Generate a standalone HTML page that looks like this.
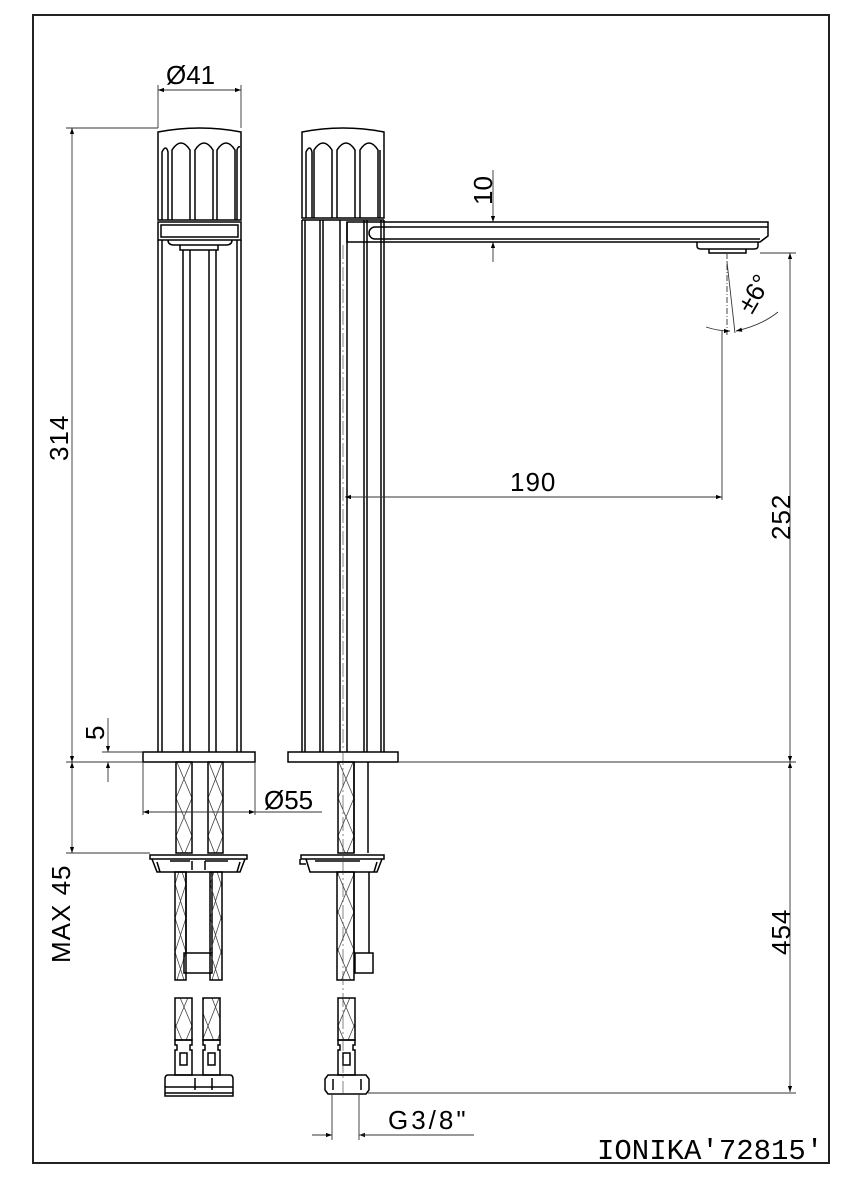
<!DOCTYPE html>
<html><head><meta charset="utf-8"><style>
html,body{margin:0;padding:0;background:#fff;}
svg{display:block;}
text{font-family:"Liberation Sans",sans-serif;fill:#000;}
</style></head><body>
<svg width="850" height="1200" viewBox="0 0 850 1200" xmlns="http://www.w3.org/2000/svg">
<defs>
<marker id="a" viewBox="0 0 10 10" refX="10" refY="5" markerWidth="10" markerHeight="6" orient="auto-start-reverse" markerUnits="userSpaceOnUse"><path d="M0,1.5 L10,5 L0,8.5z" fill="#000"/></marker>
<pattern id="h1" x="175" y="0" width="11" height="34" patternUnits="userSpaceOnUse"><path d="M0,0 L11,34 M11,0 L0,34" stroke="#444" stroke-width="0.8" fill="none"/></pattern>
<pattern id="h2" x="176" y="0" width="16" height="38" patternUnits="userSpaceOnUse"><path d="M0,0 L16,38 M16,0 L0,38" stroke="#444" stroke-width="0.8" fill="none"/></pattern>
<pattern id="h3" x="208" y="0" width="15" height="38" patternUnits="userSpaceOnUse"><path d="M0,0 L15,38 M15,0 L0,38" stroke="#444" stroke-width="0.8" fill="none"/></pattern>
<pattern id="h4" x="338" y="0" width="16" height="38" patternUnits="userSpaceOnUse"><path d="M0,0 L16,38 M16,0 L0,38" stroke="#444" stroke-width="0.8" fill="none"/></pattern>
<pattern id="h5" x="210" y="0" width="11" height="34" patternUnits="userSpaceOnUse"><path d="M0,0 L11,34 M11,0 L0,34" stroke="#444" stroke-width="0.8" fill="none"/></pattern>
</defs>
<rect x="33" y="15" width="796" height="1148" fill="none" stroke="#222" stroke-width="2"/>

<g fill="none" stroke="#000" stroke-width="1.5">
<!-- LEFT TAP -->
<path d="M158,132 Q200,124 241,132 L241,220 L158,220 Z"/>
<path d="M162,220 V152 q4,-8 6,0 V220 M172,220 V150 q9,-14 18,0 V220 M195,220 V150 q9,-14 18,0 V220 M217,220 V150 q9,-14 18,0 V220 M237,220 V150 q1,-4 3,-3"/>
<rect x="158" y="222" width="83" height="18"/>
<rect x="161" y="225" width="77" height="12"/>
<path d="M168,240 q0,5 6,5 H226 q6,0 6,-5 M180,245 V250 H218 V245"/>
<path d="M158,240 V752 M241,240 V752 M162,240 V752 M237,240 V752 M183,250 V752 M190,250 V752 M209,250 V752 M216,250 V752"/>
<rect x="143" y="752" width="112" height="10"/>
<rect x="176" y="762" width="16" height="91" fill="url(#h2)"/>
<rect x="208" y="762" width="15" height="91" fill="url(#h3)"/>
<path d="M150,855 H247 V859 H150 Z M152,859 L157,872 H240 L245,859"/>
<path d="M157,862 l3,10 M240,862 l-3,10 M170,861 H190 M205,861 H228 M192,861 V870 M205,861 V870"/>
<rect x="175" y="872" width="11" height="108" fill="url(#h1)"/>
<path d="M186,872 V953 M212,872 V953"/>
<rect x="184" y="953" width="28" height="20"/>
<rect x="210" y="872" width="12" height="108" fill="url(#h5)"/>
<rect x="175" y="998" width="17" height="42" fill="url(#h2)"/>
<rect x="203" y="998" width="17" height="42" fill="url(#h3)"/>
<path d="M175,1040 h17 v5 h-2 v5 h2 v25 h-17 v-25 h2 v-5 h-2z M203,1040 h17 v5 h-2 v5 h2 v25 h-17 v-25 h2 v-5 h-2z"/>
<rect x="180" y="1053" width="7" height="12"/><rect x="208" y="1053" width="7" height="12"/>
<path d="M168,1075 H230 q3,0 3,4 V1093 H165 V1079 q0,-4 3,-4z M165,1087 H233 M195,1078 V1090 M212,1078 V1090 M165,1093 v3 h68 v-3"/>

<!-- RIGHT TAP -->
<path d="M302,132 Q343,124 384,132 L384,218 L302,218 Z"/>
<path d="M306,218 V152 q4,-8 6,0 V218 M314,218 V150 q9,-14 18,0 V218 M337,218 V150 q9,-14 18,0 V218 M360,218 V150 q9,-14 18,0 V218 M380,218 V150"/>
<path d="M302,220 V752 M384,220 V752 M381,220 V752 M302,220 H384 M305,220 V752 M320,220 V752 M323,220 V752 M340,220 V752 M347,222 V752 M364,220 V752 M367,220 V752"/>
<path d="M347,222 H768 V236 L760,242 H347 Z"/>
<path d="M375,227 H768 M375,239 H760 M375,227 a6,6 0 0 0 0,12"/>
<path d="M697,242 v4 q0,3 4,3 H754 q4,0 4,-3 v-4 M709,249 v4 H746 v-4"/>
<rect x="288" y="752" width="110" height="10"/>
<rect x="338" y="762" width="16" height="91" fill="url(#h4)"/>
<path d="M354,762 V853 M368,762 V853"/>
<path d="M301,855 H384 V859 H301 Z M300,859 v5 h6 M306,859 L310,872 H377 L382,859 M377,862 l-3,10 M315,861 H360"/>
<rect x="337" y="872" width="17" height="108" fill="url(#h4)"/>
<path d="M354,872 V953 M369,872 V953"/>
<rect x="355" y="953" width="18" height="20"/>
<rect x="338" y="998" width="17" height="42" fill="url(#h4)"/>
<path d="M338,1040 h17 v5 h-2 v5 h2 v25 h-17 v-25 h2 v-5 h-2z"/>
<rect x="343" y="1053" width="7" height="12"/>
<path d="M328,1075 H366 l3,4 V1090 l-3,4 H328 l-3,-4 V1079z M333,1079 V1090 M361,1079 V1090"/>
</g>

<g fill="none" stroke="#333" stroke-width="0.9">
<path d="M158,85 V128 M241,85 V128"/>
<path d="M158,90 H241" marker-start="url(#a)" marker-end="url(#a)"/>
<path d="M66,128 H158"/>
<path d="M72,128 V762" marker-start="url(#a)" marker-end="url(#a)"/>
<path d="M66,762 H143 M102,752 H143"/>
<path d="M108,718 V752" marker-end="url(#a)"/>
<path d="M108,782 V762" marker-end="url(#a)"/>
<path d="M72,762 V853" marker-start="url(#a)" marker-end="url(#a)"/>
<path d="M66,853 H150"/>
<path d="M143,762 V815 M255,762 V815"/>
<path d="M143,812 H255" marker-start="url(#a)" marker-end="url(#a)"/>
<path d="M255,812 H322"/>
<path d="M493,170 V222" marker-end="url(#a)"/>
<path d="M493,262 V242" marker-end="url(#a)"/>
<path d="M398,762 H796 M760,253 H796"/>
<path d="M790,253 V762" marker-start="url(#a)" marker-end="url(#a)"/>
<path d="M790,762 V1092" marker-start="url(#a)" marker-end="url(#a)"/>
<path d="M368,1093 H796"/>
<path d="M345,497 H722" marker-start="url(#a)" marker-end="url(#a)"/>
<path d="M722,330 V500"/>
<path d="M727,253 V335" stroke-dasharray="6,2,1,2"/>
<path d="M727,262 L735,333"/>
<path d="M706,327 Q718,331 730,331" marker-end="url(#a)"/>
<path d="M778,312 Q762,325 736,331" marker-end="url(#a)"/>
<path d="M343,245 V1093" stroke-dasharray="14,3,2,3" stroke-width="0.6"/>
<path d="M332,1093 V1140 M359,1093 V1140"/>
<path d="M312,1135 H332" marker-end="url(#a)"/>
<path d="M379,1135 H359" marker-end="url(#a)"/>
<path d="M359,1135 H474"/>
</g>

<g font-size="26">
<text x="166" y="84">Ø41</text>
<text transform="translate(68,461) rotate(-90)" letter-spacing="1">314</text>
<text transform="translate(104,740) rotate(-90)">5</text>
<text transform="translate(70,963) rotate(-90)" letter-spacing="1">MAX 45</text>
<text x="264" y="809">Ø55</text>
<text transform="translate(492,205) rotate(-90)">10</text>
<text x="510" y="491" letter-spacing="1">190</text>
<text transform="translate(790,540) rotate(-90)" letter-spacing="1">252</text>
<text transform="translate(790,955) rotate(-90)" letter-spacing="1">454</text>
<text transform="translate(752,315) rotate(-60)">±6°</text>
<text x="388" y="1129" letter-spacing="3">G3/8"</text>
<text x="597" y="1159" style="font-family:'Liberation Mono',monospace" font-size="29">IONIKA'72815'</text>
</g>
</svg>
</body></html>
